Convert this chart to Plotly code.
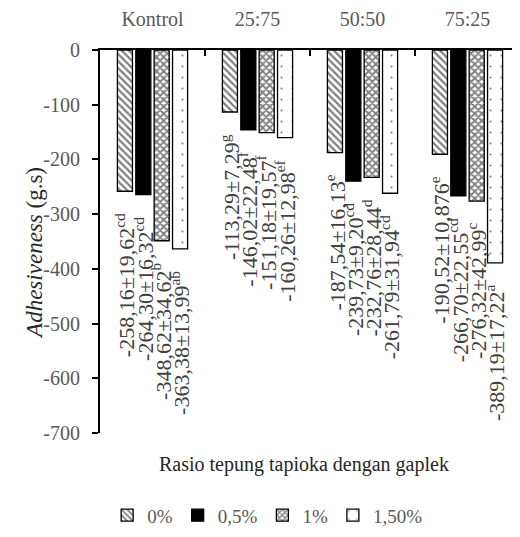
import plotly.graph_objects as go

categories = ["Kontrol", "25:75", "50:50", "75:25"]
series_names = ["0%", "0,5%", "1%", "1,50%"]

v_0 = [-258.16, -113.29, -187.54, -190.52]
v_05 = [-264.30, -146.02, -239.73, -266.70]
v_1 = [-348.62, -151.18, -232.76, -276.32]
v_15 = [-363.38, -160.26, -261.79, -389.19]

lbl_0 = ["-258,16±19,62<sup>cd</sup>", "-113,29±7,29<sup>g</sup>", "-187,54±16,13<sup>e</sup>", "-190,52±10,876<sup>e</sup>"]
lbl_05 = ["-264,30±16,32<sup>cd</sup>", "-146,02±22,48<sup>f</sup>", "-239,73±9,20<sup>cd</sup>", "-266,70±22,55<sup>cd</sup>"]
lbl_1 = ["-348,62±34,62<sup>b</sup>", "-151,18±19,57<sup>f</sup>", "-232,76±28,44<sup>d</sup>", "-276,32±42,99<sup>c</sup>"]
lbl_15 = ["-363,38±13,99<sup>ab</sup>", "-160,26±12,98<sup>ef</sup>", "-261,79±31,94<sup>cd</sup>", "-389,19±17,22<sup>a</sup>"]

y_ticks = [0, -100, -200, -300, -400, -500, -600, -700]

values = [v_0, v_05, v_1, v_15]
labels = [lbl_0, lbl_05, lbl_1, lbl_15]

FONT = "Liberation Serif"
patterns = [
    dict(shape="\\", size=5, solidity=0.45, fgcolor="black", bgcolor="white"),
    dict(shape="", fgcolor="black", bgcolor="black"),
    dict(shape="x", size=5, solidity=0.6, fgcolor="black", bgcolor="white"),
    dict(shape=".", size=11, solidity=0.03, fgcolor="black", bgcolor="white"),
]
fills = ["white", "black", "white", "white"]

fig = go.Figure()
for name, vals, pat, fc in zip(series_names, values, patterns, fills):
    fig.add_trace(go.Bar(
        x=categories, y=vals, name=name,
        marker=dict(color=fc, pattern=pat, line=dict(color="black", width=1.3)),
    ))

bargap = 0.3
n = len(series_names)
slot = (1 - bargap) / n
for i, lbls in enumerate(labels):
    off = -(1 - bargap) / 2 + slot * (i + 0.5)
    for j, (val, t) in enumerate(zip(values[i], lbls)):
        fig.add_annotation(
            x=j + off, y=val, xref="x", yref="y", text=t, showarrow=False,
            textangle=-90, xanchor="center", yanchor="top", yshift=-20,
            font=dict(family=FONT, size=22, color="#404040"),
        )

fig.add_annotation(
    x=-0.155, y=0.47, xref="paper", yref="paper", showarrow=False,
    text="<i>Adhesiveness</i> (g.s)", textangle=-90,
    xanchor="center", yanchor="middle",
    font=dict(family=FONT, size=23, color="#262626"),
)
fig.add_annotation(
    x=0.486, y=-0.081, xref="paper", yref="paper", showarrow=False,
    text="Rasio tepung tapioka dengan gaplek",
    xanchor="center", yanchor="middle",
    font=dict(family=FONT, size=20, color="#262626"),
)

fig.update_layout(
    width=520, height=537,
    margin=dict(l=92, r=8, t=42, b=112, autoexpand=False),
    paper_bgcolor="white", plot_bgcolor="white",
    barmode="group", bargap=bargap, bargroupgap=0.18,
    font=dict(family=FONT, size=20, color="#595959"),
    showlegend=True,
    legend=dict(
        orientation="h", x=0.017, xanchor="left", y=-0.215, yanchor="middle",
        font=dict(family=FONT, size=19, color="#595959"),
        itemwidth=30, traceorder="normal",
    ),
    xaxis=dict(
        side="top", type="category", tickson="boundaries", automargin=False,
        ticks="inside", ticklen=6, tickwidth=1.5, tickcolor="black",
        showline=True, linecolor="black", linewidth=1.5,
        showgrid=False, zeroline=False,
        ticklabelstandoff=14,
        tickfont=dict(family=FONT, size=20, color="#595959"),
    ),
    yaxis=dict(
        range=[-700, 0], tickvals=y_ticks, ticktext=[str(v) for v in y_ticks],
        automargin=False,
        ticks="outside", ticklen=6, tickwidth=1.5, tickcolor="black",
        showline=True, linecolor="black", linewidth=2,
        showgrid=False, zeroline=False,
        ticklabelstandoff=8,
        tickfont=dict(family=FONT, size=20, color="#595959"),
    ),
)

fig.write_html("out.html")
